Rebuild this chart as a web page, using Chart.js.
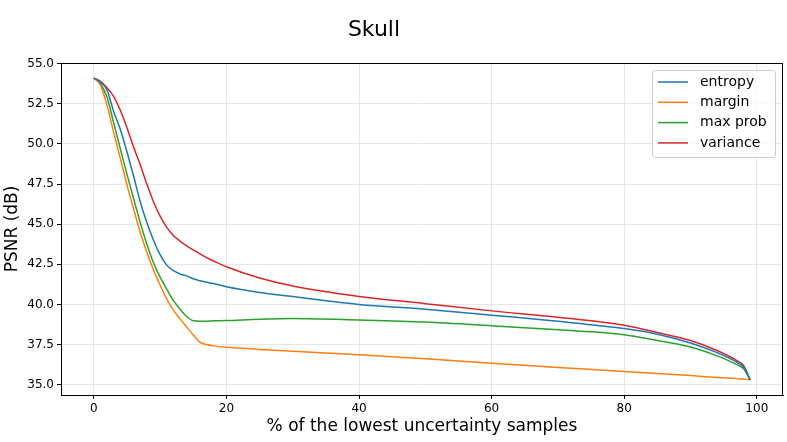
<!DOCTYPE html>
<html>
<head>
<meta charset="utf-8">
<script src="https://cdn.jsdelivr.net/npm/chart.js@4.4.1/dist/chart.umd.min.js"></script>
<style>
  html, body { margin: 0; padding: 0; background: #fff; }
  #wrap { width: 787px; height: 442px; position: relative; }
</style>
</head>
<body>
<div id="wrap"><canvas id="c" width="787" height="442"></canvas></div>
<script>
// Values
const xs = [0, 1, 2, 3, 4, 5, 6, 7, 8, 9, 10, 11, 12, 13, 14, 15, 16, 17, 18, 20, 25, 30, 40, 50, 60, 70, 80, 85, 90, 94, 97, 98, 99];

const entropy = [54.1, 53.85, 53.35, 52.0, 50.9, 49.5, 48.0, 46.4, 45.1, 44.0, 43.1, 42.45, 42.1, 41.9, 41.78, 41.6, 41.48, 41.38, 41.3,
  41.1, 40.75, 40.5, 40.0, 39.7, 39.33, 38.95, 38.5, 38.15, 37.6, 37.0, 36.4, 36.1, 35.3];
const margin = [54.1, 53.65, 52.4, 50.7, 49.1, 47.45, 45.95, 44.5, 43.25, 42.15, 41.2, 40.35, 39.65, 39.1, 38.6, 38.1, 37.65, 37.5, 37.42,
  37.33, 37.2, 37.08, 36.86, 36.62, 36.34, 36.08, 35.82, 35.7, 35.57, 35.45, 35.38, 35.35, 35.3];
const maxProb = [54.1, 53.75, 52.9, 51.3, 49.7, 48.1, 46.6, 45.1, 43.75, 42.6, 41.7, 40.95, 40.25, 39.7, 39.25, 38.98, 38.95, 38.96, 38.98,
  39.0, 39.08, 39.12, 39.03, 38.9, 38.67, 38.42, 38.12, 37.75, 37.35, 36.8, 36.25, 36.0, 35.3];
const variance = [54.1, 53.9, 53.5, 52.95, 52.1, 51.0, 49.8, 48.7, 47.5, 46.4, 45.5, 44.8, 44.3, 43.95, 43.65, 43.4, 43.15, 42.92, 42.72,
  42.35, 41.65, 41.15, 40.5, 40.05, 39.6, 39.2, 38.7, 38.25, 37.75, 37.13, 36.5, 36.2, 35.3];

const seriesNames = ['entropy', 'margin', 'max prob', 'variance'];
const seriesColors = ['#1f77b4', '#ff7f0e', '#2ca02c', '#d62728'];
const xTicks = [0, 20, 40, 60, 80, 100];
const yTicks = [35, 37.5, 40, 42.5, 45, 47.5, 50, 52.5, 55];

const FONT = 'DejaVu Sans, sans-serif';

function pts(vals) {
  return xs.map((x, i) => ({ x, y: vals[i] }));
}

// title, axis titles, frame and legend (matplotlib look)
const decor = {
  id: 'decor',
  afterDraw(chart) {
    const ctx = chart.ctx;
    const a = chart.chartArea;
    ctx.save();
    ctx.strokeStyle = '#000';
    ctx.lineWidth = 1;
    ctx.strokeRect(a.left + 0.5, a.top + 0.5, a.right - a.left - 1, a.bottom - a.top);

    ctx.fillStyle = '#000';
    ctx.textAlign = 'center';
    ctx.textBaseline = 'middle';
    ctx.font = '22px ' + FONT;
    ctx.fillText('Skull', 374, 30);
    ctx.font = '17px ' + FONT;
    ctx.fillText('% of the lowest uncertainty samples', (a.left + a.right) / 2, 427);
    ctx.save();
    ctx.translate(13, (a.top + a.bottom) / 2);
    ctx.rotate(-Math.PI / 2);
    ctx.fillText('PSNR (dB)', 0, 0);
    ctx.restore();

    // legend box
    const bx = 652.5, by = 70.5, bw = 123, bh = 87;
    ctx.fillStyle = 'rgba(255,255,255,0.8)';
    ctx.strokeStyle = '#cccccc';
    ctx.beginPath();
    ctx.roundRect(bx, by, bw, bh, 3);
    ctx.fill();
    ctx.stroke();
    ctx.font = '14px ' + FONT;
    ctx.textAlign = 'left';
    chart.data.datasets.forEach((ds, i) => {
      const yy = 82 + i * 20.3;
      ctx.strokeStyle = ds.borderColor;
      ctx.lineWidth = 1.5;
      ctx.beginPath();
      ctx.moveTo(658, yy);
      ctx.lineTo(688, yy);
      ctx.stroke();
      ctx.fillStyle = '#000';
      ctx.fillText(ds.label, 700, yy);
    });
    ctx.restore();
  }
};

const axisCommon = {
  type: 'linear',
  grid: { color: '#e6e6e6', lineWidth: 1, tickColor: '#000', tickLength: 4, drawTicks: true },
  border: { display: true, color: '#000', width: 1 },
  ticks: { font: { family: FONT, size: 12 }, color: '#000', padding: 3 },
};

new Chart(document.getElementById('c'), {
  type: 'line',
  data: {
    datasets: [entropy, margin, maxProb, variance].map((vals, i) => ({
      label: seriesNames[i],
      data: pts(vals),
      borderColor: seriesColors[i],
      backgroundColor: seriesColors[i],
      borderWidth: 1.5,
      pointRadius: 0,
      cubicInterpolationMode: 'monotone',
      fill: false,
    })),
  },
  options: {
    responsive: false,
    animation: false,
    devicePixelRatio: 1,
    layout: { padding: { top: 63, right: 4, left: 0, bottom: 0 } },
    plugins: { legend: { display: false }, tooltip: { enabled: false } },
    scales: {
      x: {
        ...axisCommon,
        min: -4.95,
        max: 103.95,
        afterBuildTicks: (s) => { s.ticks = xTicks.map(v => ({ value: v })); },
        afterFit: (s) => { s.height = 47; },
        ticks: { ...axisCommon.ticks, callback: (v) => String(v) },
      },
      y: {
        ...axisCommon,
        min: 34.36,
        max: 55.04,
        afterBuildTicks: (s) => { s.ticks = yTicks.map(v => ({ value: v })); },
        afterFit: (s) => { s.width = 61; },
        ticks: { ...axisCommon.ticks, callback: (v) => Number(v).toFixed(1) },
      },
    },
  },
  plugins: [decor],
});
</script>
</body>
</html>
